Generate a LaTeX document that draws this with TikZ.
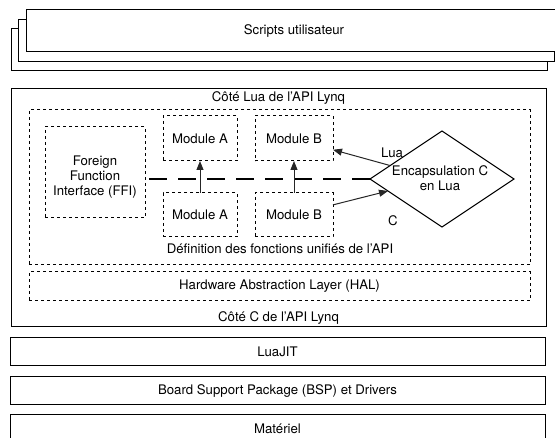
\documentclass[tikz,border=0pt]{standalone}
\usepackage{fontspec}
\setmainfont{TeX Gyre Heros}
\usetikzlibrary{arrows.meta,shapes.geometric,calc}
\begin{document}
\begin{tikzpicture}[x=1pt,y=-1pt,
  font=\fontsize{13.2}{15}\selectfont,
  solidbox/.style={draw=black, line width=1pt, fill=white, inner sep=0pt, outer sep=0pt, align=center},
  dashbox/.style={draw=black, line width=1pt, dash pattern=on 3pt off 3pt, inner sep=0pt, outer sep=0pt, align=center},
  arr/.style={-{Triangle[length=9pt,width=7pt]}, line width=1pt, draw=black!85},
  thickdash/.style={line width=2.7pt, dash pattern=on 17.5pt off 11.5pt, dash phase=25pt},
  lbl/.style={inner sep=0pt, align=center}]
\useasboundingbox (0,0) rectangle (555,438);

% stack of user scripts
\node[solidbox, minimum width=536pt, minimum height=42pt] (s3) at (279,50) {};
\node[solidbox, minimum width=536pt, minimum height=42pt] (s2) at (286,41) {};
\node[solidbox, minimum width=536pt, minimum height=42pt] (s1) at (294,31) {Scripts utilisateur};

% main API box
\node[solidbox, minimum width=535pt, minimum height=238pt] (api) at (278.5,208) {};
\node[lbl] (luaside) at (278.5,98.5) {Côté Lua de l’API Lynq};
\node[lbl] (cside) at (278.5,318) {Côté C de l’API Lynq};

% inner dashed box
\node[dashbox, minimum width=501pt, minimum height=155pt] (inner) at (279.5,187.5) {};
\node[lbl] (defs) at (280,249) {Définition des fonctions unifiés de l’API};

% HAL
\node[dashbox, minimum width=501pt, minimum height=29pt] (hal) at (279.5,286.5) {Hardware Abstraction Layer (HAL)};

% FFI
\node[dashbox, minimum width=100pt, minimum height=91pt] (ffi) at (95,172.5) {};
\node[lbl] (ffitxt) at (95,177) {Foreign\\Function\\Interface (FFI)};

% modules
\node[dashbox, minimum width=74pt, minimum height=45pt] (mat) at (200,138.5) {Module A};
\node[dashbox, minimum width=78pt, minimum height=45pt] (mbt) at (294,138.5) {Module B};
\node[dashbox, minimum width=74pt, minimum height=44pt] (mab) at (200,215) {Module A};
\node[dashbox, minimum width=78pt, minimum height=44pt] (mbb) at (294,215) {Module B};

% diamond
\node[draw=black, line width=1pt, diamond, aspect=1.5, inner sep=0pt, outer sep=0pt,
      minimum width=144pt, minimum height=96pt, align=center] (enc) at (442,179) {};
\node[lbl] (enctxt) at (440,178) {Encapsulation C\\en Lua};

% connectors
\draw[thickdash] (ffi.east |- enc.west) -- (enc.west);
\draw[arr] (mab.north) -- (mat.south);
\draw[arr] (mbb.north) -- (mbt.south);
\draw[arr] ($(enc.west)!0.28!(enc.north)$) -- ($(mbt.south east)!0.25!(mbt.north east)$);
\draw[arr] ($(mbb.north east)!0.27!(mbb.south east)$) -- ($(enc.west)!0.25!(enc.south)$);
\node[lbl] (lualbl) at (392,153) {Lua};
\node[lbl] (clbl) at (393,221) {C};

% lower layers
\node[solidbox, minimum width=535pt, minimum height=28pt] (luajit) at (277.5,352) {LuaJIT};
\node[solidbox, minimum width=535pt, minimum height=28pt] (bsp) at (277.5,391) {Board Support Package (BSP) et Drivers};
\node[solidbox, minimum width=535pt, minimum height=28pt] (hw) at (277.5,429) {Matériel};
\end{tikzpicture}
\end{document}
